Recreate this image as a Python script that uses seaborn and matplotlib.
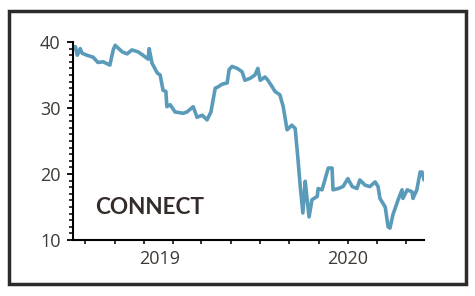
import matplotlib
matplotlib.use("Agg")
import matplotlib.pyplot as plt
import matplotlib.dates as mdates
from matplotlib.patches import Rectangle
from matplotlib.ticker import MultipleLocator
import seaborn as sns
import pandas as pd

dates = ["2018-06-06", "2018-06-11", "2018-06-15", "2018-06-21", "2018-06-25", "2018-07-05", "2018-07-18",
         "2018-07-28", "2018-08-08", "2018-08-22", "2018-08-29", "2018-09-02", "2018-09-17",
         "2018-09-27", "2018-10-07", "2018-10-20", "2018-10-30", "2018-11-10", "2018-11-12",
         "2018-11-18", "2018-11-29", "2018-12-05", "2018-12-11", "2018-12-17", "2018-12-19",
         "2018-12-26", "2019-01-05", "2019-01-22", "2019-01-30", "2019-02-12", "2019-02-20",
         "2019-03-03", "2019-03-13", "2019-03-21", "2019-03-30", "2019-04-05", "2019-04-13",
         "2019-04-24", "2019-04-28", "2019-05-04", "2019-05-15", "2019-05-25", "2019-05-31",
         "2019-06-11", "2019-06-21", "2019-06-27", "2019-07-02", "2019-07-12", "2019-07-18",
         "2019-07-27", "2019-08-02", "2019-08-12", "2019-08-19", "2019-08-27", "2019-09-06",
         "2019-09-13", "2019-09-19", "2019-09-23", "2019-09-29", "2019-10-04", "2019-10-08",
         "2019-10-12", "2019-10-18", "2019-10-29", "2019-10-31", "2019-11-08", "2019-11-14",
         "2019-11-21", "2019-11-29", "2019-12-01", "2019-12-12", "2019-12-22", "2020-01-01",
         "2020-01-10", "2020-01-20", "2020-01-26", "2020-02-06", "2020-02-16", "2020-02-27",
         "2020-03-04", "2020-03-08", "2020-03-19", "2020-03-25", "2020-03-29", "2020-04-04",
         "2020-04-15", "2020-04-23", "2020-04-25", "2020-05-04", "2020-05-14", "2020-05-16",
         "2020-05-24", "2020-05-31", "2020-06-04", "2020-06-08"]
prices = [39.0, 39.3, 38.0, 39.0, 38.3, 38.0, 37.7,
          36.9, 37.0, 36.5, 38.8, 39.5, 38.5,
          38.2, 38.8, 38.5, 38.0, 37.4, 39.0,
          36.8, 35.3, 35.0, 32.7, 32.5, 30.2,
          30.5, 29.4, 29.2, 29.4, 30.2, 28.6,
          28.9, 28.2, 29.4, 33.0, 33.2, 33.6,
          33.8, 35.8, 36.3, 36.0, 35.5, 34.2,
          34.5, 35.0, 36.0, 34.2, 34.7, 34.2,
          33.2, 32.5, 32.0, 30.2, 26.7, 27.4,
          26.9, 22.1, 18.6, 14.1, 18.9, 16.1,
          13.5, 16.1, 16.6, 17.8, 17.6, 19.1,
          20.9, 20.9, 17.6, 17.8, 18.1, 19.3,
          18.1, 17.8, 19.1, 18.3, 18.1, 18.8,
          18.1, 16.3, 15.0, 12.0, 11.8, 13.8,
          16.1, 17.6, 16.3, 17.6, 17.3, 16.3,
          17.6, 20.3, 20.3, 19.1]
year_labels = ["2019", "2020"]
year_label_dates = ["2018-12-04", "2020-01-01"]
y_ticks = [10, 20, 30, 40]
title_text = "CONNECT"

df = pd.DataFrame({"date": pd.to_datetime(dates), "price": prices})

sns.set_style("white")
plt.rcParams["font.family"] = ["Open Sans", "DejaVu Sans"]

fig = plt.figure(figsize=(4.75, 2.96), dpi=100)
ax = fig.add_axes([73 / 475, 1 - 240 / 296, (424 - 73) / 475, (240 - 42) / 296])

sns.lineplot(data=df, x="date", y="price", ax=ax, color="#5a9bb9", linewidth=2.6)

ax.set_xlim(pd.Timestamp("2018-06-06"), pd.Timestamp("2020-06-08"))
ax.set_ylim(10, 40)
ax.set_xlabel("")
ax.set_ylabel("")

for s in ["top", "right"]:
    ax.spines[s].set_visible(False)
for s in ["left", "bottom"]:
    ax.spines[s].set_visible(True)
    ax.spines[s].set_color("black")
    ax.spines[s].set_linewidth(1.5)

ax.set_yticks(y_ticks)
ax.set_yticklabels([str(v) for v in y_ticks], fontsize=13, color="#3d3935")
ax.yaxis.set_minor_locator(MultipleLocator(1))
ax.tick_params(axis="y", which="major", direction="out", length=4, width=1.3, color="black", pad=5, left=True)
ax.tick_params(axis="y", which="minor", direction="out", length=3, width=1.1, color="black", left=True)

ax.xaxis.set_major_locator(mdates.MonthLocator(bymonth=[1, 3, 5, 7, 9, 11]))
ax.tick_params(axis="x", which="major", direction="out", length=3, width=1.1, color="black", bottom=True, labelbottom=False)

for lab, d in zip(year_labels, year_label_dates):
    ax.text(pd.Timestamp(d), -0.095, lab, transform=ax.get_xaxis_transform(),
            ha="center", va="center", fontsize=13, color="#3d3935")

ax.text(0.062, 0.165, title_text, transform=ax.transAxes, ha="left", va="center",
        fontsize=16.2, fontweight="bold", color="#332c29", family=["Lato", "DejaVu Sans"])

ax.grid(False)

fig.patches.append(Rectangle((9 / 475, 1 - 284 / 296), (466 - 9) / 475, (284 - 11) / 296,
                             transform=fig.transFigure, fill=False, edgecolor="#2b2b2b",
                             linewidth=2.5, zorder=10))

fig.savefig("out.png", dpi=100)
